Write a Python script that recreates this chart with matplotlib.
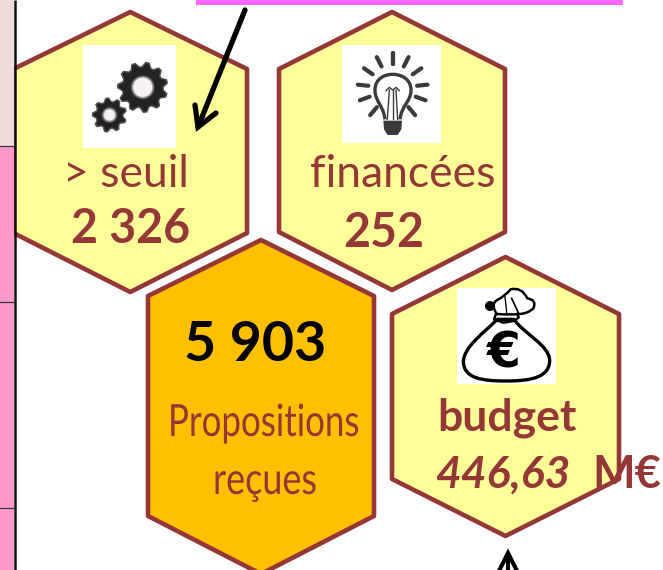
import numpy as np
import matplotlib
matplotlib.use("Agg")
import matplotlib.pyplot as plt
from matplotlib.patches import Polygon, Circle, Rectangle, PathPatch
from matplotlib.path import Path
from matplotlib.patheffects import AbstractPathEffect
from matplotlib.transforms import Affine2D

W, H = 663, 570
BROWN = "#953735"
YELLOW = "#ffff99"
ORANGE = "#ffc000"
SANS = ["Lato", "DejaVu Sans"]

# text content
seuil_label, seuil_value = "> seuil", "2 326"
fin_label, fin_value = "financées", "252"
prop_value, prop_label1, prop_label2 = "5 903", "Propositions", "reçues"
budget_label, budget_value, budget_unit = "budget", "446,63", "M€"

fig = plt.figure(figsize=(W / 100, H / 100), dpi=100)
ax = fig.add_axes([0, 0, 1, 1])
ax.set_xlim(0, W)
ax.set_ylim(H, 0)
ax.axis("off")

# left strip and top bar
ax.add_patch(Rectangle((0, 0), 13.5, 146, fc="#f2dcdb", ec="none", zorder=3.5))
ax.add_patch(Rectangle((0, 146), 13.5, H - 146, fc="#ff99cc", ec="none", zorder=3.5))
ax.plot([14.5, 14.5], [0, H], color="#111111", lw=1.8, solid_capstyle="butt", zorder=3.6)
for y in (146, 302, 508):
    ax.plot([0, 14], [y, y], color="#333333", lw=0.9, zorder=3.6)
ax.add_patch(Rectangle((196, 0), 427, 5, fc="#ff66ff", ec="none"))


def hexagon(l, r, t, t2, b2, b, fc, z=2):
    c = (l + r) / 2
    ax.add_patch(Polygon([(c, t), (r, t2), (r, b2), (c, b), (l, b2), (l, t2)],
                         closed=True, fc=fc, ec=BROWN, lw=3.3, joinstyle="round",
                         zorder=z))


hexagon(13.5, 247, 12, 69, 233, 292, YELLOW)
hexagon(279, 505, 12, 69, 232, 290, YELLOW)
hexagon(148, 374, 240, 296, 516, 574, ORANGE, z=3)
hexagon(392, 619, 257, 314, 479, 536, YELLOW)

# white icon boxes
for x0, x1, y0, y1 in ((83, 176, 45, 148), (342, 441, 45, 143), (457, 556, 288, 384)):
    ax.add_patch(Rectangle((x0, y0), x1 - x0, y1 - y0, fc="white", ec="none", zorder=4))


def gear(cx, cy, ro, ri, hole, n):
    a = np.linspace(0, 2 * np.pi, n * 4, endpoint=False) + 0.12
    r = np.tile([ri, ro, ro, ri], n)
    pts = np.c_[cx + r * np.cos(a), cy + r * np.sin(a)]
    ax.add_patch(Polygon(pts, closed=True, fc="#232323", ec="#555555", lw=1.0,
                         joinstyle="round", zorder=5))
    for k, col in ((2.5, "#555555"), (1.2, "#aaaaaa"), (0, "#f7f2f2")):
        ax.add_patch(Circle((cx, cy), hole + k, fc=col, ec="none", zorder=5))


gear(142.7, 87.3, 25, 20.5, 9.5, 11)
gear(109.5, 115, 17, 13.5, 5.5, 9)

# light bulb (zoom crop coordinates -> pixels)
def bz(x, y):
    return 330 + x / 3, 30 + y / 3


DARK = "#3a3a3a"
cx, cy = bz(188, 175)
for deg in (0, 27, 55, 84, 110, 140):
    for s in (-1, 1):
        a = np.radians(s * deg)
        ax.plot([cx + 24.5 * np.sin(a), cx + 35 * np.sin(a)],
                [cy - 24.5 * np.cos(a), cy - 35 * np.cos(a)],
                color=DARK, lw=3.0, solid_capstyle="round", zorder=5)
C4 = Path.CURVE4
verts = [bz(165, 268), bz(160, 225), bz(135, 215), bz(135, 180), bz(135, 145), bz(165, 133),
         bz(188, 133), bz(215, 133), bz(243, 148), bz(243, 180), bz(243, 215), bz(215, 225),
         bz(210, 268)]
ax.add_patch(PathPatch(Path(verts, [Path.MOVETO] + [C4] * 12), fc="none", ec=DARK, lw=2.4, zorder=5))
for a_, b_ in (((178, 180), (172, 268)), ((198, 180), (203, 268)), ((188, 180), (188, 268))):
    ax.plot(*zip(bz(*a_), bz(*b_)), color=DARK, lw=1.0, zorder=5)
ax.plot(*zip(bz(168, 182), bz(178, 172), bz(188, 180), bz(198, 172), bz(208, 182)),
        color=DARK, lw=1.0, zorder=5)
ax.add_patch(Polygon([bz(160, 272), bz(216, 272), bz(214, 298), bz(203, 315), bz(173, 315),
                      bz(162, 298)], closed=True, fc=DARK, ec="none", zorder=5))

# money bag
def gz(x, y):
    return 440 + x / 3, 280 + y / 3


MV, C3 = Path.MOVETO, Path.CURVE3
body = [gz(172, 118), gz(130, 160), gz(72, 200), gz(70, 245), gz(72, 295), gz(125, 303),
        gz(198, 303), gz(280, 303), gz(329, 290), gz(329, 240), gz(327, 195), gz(250, 160),
        gz(222, 118), gz(170, 118)]
ax.add_patch(PathPatch(Path(body, [MV] + [C4] * 12 + [Path.LINETO]),
                       fc="white", ec="black", lw=2.4, joinstyle="round", zorder=5))
top = [gz(170, 102), gz(150, 70), gz(172, 60), gz(195, 48), gz(212, 28), gz(245, 20), gz(262, 55),
       gz(292, 60), gz(280, 85), gz(265, 100), gz(240, 102), gz(205, 105), gz(170, 102)]
ax.add_patch(PathPatch(Path(top, [MV] + [C3] * 12), fc="white", ec="black", lw=1.8, zorder=5))
ax.add_patch(Circle(gz(150, 78), 5, fc="black", ec="none", zorder=6))
neck = [gz(168, 102), gz(162, 118), gz(190, 128), gz(225, 122), gz(236, 112), gz(232, 102)]
ax.plot(*zip(*neck), color="black", lw=1.8, zorder=6)
ax.plot(*zip(gz(215, 55), gz(235, 98)), color="black", lw=1.2, zorder=6)
ax.plot(*zip(gz(195, 50), gz(200, 98)), color="black", lw=1.0, zorder=6)
ax.text(*gz(192, 262), "€", color="black", fontsize=35, fontweight="bold",
        family=["DejaVu Sans"], ha="center", va="baseline", zorder=7)

# arrows
ARW = dict(color="black", lw=3.8, solid_capstyle="round", solid_joinstyle="miter", zorder=8)
ax.plot([245, 198], [10, 127], **ARW)
ax.plot([195, 198, 216], [105, 127, 113], **ARW)
ax.plot([508, 508], [556, 575], color="black", lw=3.0, zorder=8)
ax.plot([497, 508, 519], [575, 553, 575], color="black", lw=3.0, zorder=8,
        solid_joinstyle="miter")


class Squeeze(AbstractPathEffect):
    """Horizontal condensing of a text about its left anchor (display px)."""
    def __init__(self, x0, sx):
        super().__init__()
        self.x0, self.sx = x0, sx

    def draw_path(self, renderer, gc, tpath, affine, rgbFace=None):
        tr = affine + Affine2D().translate(-self.x0, 0).scale(self.sx, 1).translate(self.x0, 0)
        renderer.draw_path(gc, tpath, tr, rgbFace)


def t(x, y, s, size, color=BROWN, weight="normal", style="normal", sx=None):
    txt = ax.text(x, y, s, fontsize=size, color=color, fontweight=weight, fontstyle=style,
                  family=SANS, ha="left", va="baseline", zorder=9)
    if sx:
        txt.set_path_effects([Squeeze(x, sx)])


t(63, 187, seuil_label, 32)
t(71, 243, seuil_value, 33.5, weight="bold")
t(310, 187, fin_label, 32)
t(343, 247, fin_value, 33.5, weight="bold")
t(184, 361, prop_value, 40, color="black", weight="bold")
t(168, 436, prop_label1, 32, sx=0.785)
t(213, 494, prop_label2, 32, sx=0.81)
t(437, 431, budget_label, 32, weight="bold")
t(435, 488, budget_value, 32, weight="bold", style="italic")
t(592, 488, budget_unit, 32.5, weight="bold")

fig.savefig("out.png", dpi=100)
